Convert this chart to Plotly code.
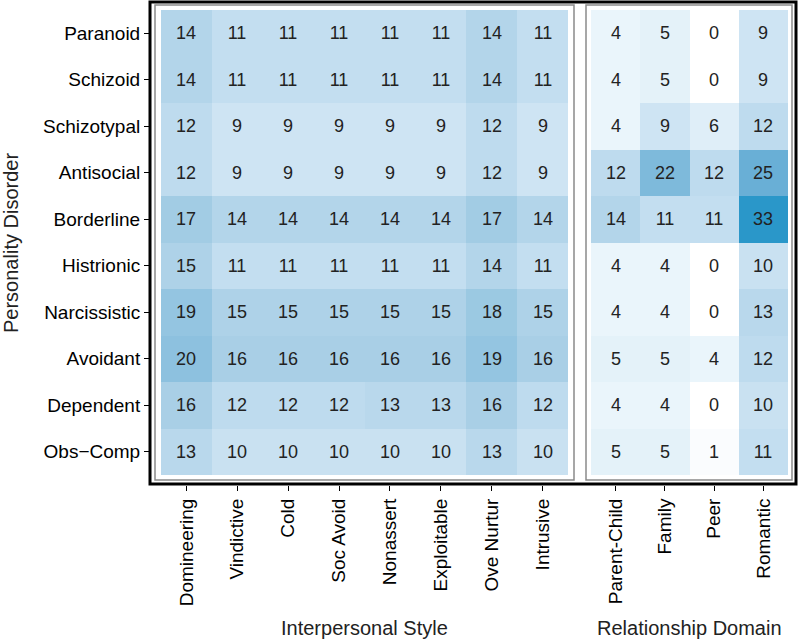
import plotly.graph_objects as go

disorders = ["Paranoid", "Schizoid", "Schizotypal", "Antisocial", "Borderline",
             "Histrionic", "Narcissistic", "Avoidant", "Dependent", "Obs\u2212Comp"]
styles = ["Domineering", "Vindictive", "Cold", "Soc Avoid", "Nonassert",
          "Exploitable", "Ove Nurtur", "Intrusive"]
domains = ["Parent-Child", "Family", "Peer", "Romantic"]

style_vals = [
    [14, 11, 11, 11, 11, 11, 14, 11],
    [14, 11, 11, 11, 11, 11, 14, 11],
    [12, 9, 9, 9, 9, 9, 12, 9],
    [12, 9, 9, 9, 9, 9, 12, 9],
    [17, 14, 14, 14, 14, 14, 17, 14],
    [15, 11, 11, 11, 11, 11, 14, 11],
    [19, 15, 15, 15, 15, 15, 18, 15],
    [20, 16, 16, 16, 16, 16, 19, 16],
    [16, 12, 12, 12, 13, 13, 16, 12],
    [13, 10, 10, 10, 10, 10, 13, 10],
]
domain_vals = [
    [4, 5, 0, 9],
    [4, 5, 0, 9],
    [4, 9, 6, 12],
    [12, 22, 12, 25],
    [14, 11, 11, 33],
    [4, 4, 0, 10],
    [4, 4, 0, 13],
    [5, 5, 4, 12],
    [4, 4, 0, 10],
    [5, 5, 1, 11],
]

W, H = 800, 641
FONT = "Liberation Sans, Arial, sans-serif"
cscale = [[0, "#ffffff"], [0.12, "#eaf5fb"], [0.33, "#c4def0"], [0.5, "#a6cee5"],
          [0.76, "#68afd6"], [1, "#2a97c9"]]

def px(x):
    return x / W

def py(y):
    return 1 - y / H

fig = go.Figure()
common = dict(zmin=0, zmax=33, colorscale=cscale, showscale=False,
              texttemplate="%{z}", textfont=dict(size=18, color="#222222", family=FONT),
              hoverinfo="x+y+z")
fig.add_trace(go.Heatmap(z=style_vals, x=styles, y=disorders, xaxis="x", yaxis="y", **common))
fig.add_trace(go.Heatmap(z=domain_vals, x=domains, y=disorders, xaxis="x2", yaxis="y", **common))

tickfont = dict(size=19, color="black", family=FONT)
xax = dict(type="category", tickangle=-90, ticks="outside", ticklen=5, tickcolor="black",
           tickwidth=1, tickfont=tickfont, showgrid=False, zeroline=False, showline=False,
           anchor="free", position=py(485), fixedrange=True)
fig.update_layout(
    width=W, height=H,
    margin=dict(l=0, r=0, t=0, b=0),
    paper_bgcolor="white", plot_bgcolor="white",
    xaxis=dict(domain=[px(161), px(568)], **xax),
    xaxis2=dict(domain=[px(591), px(788)], **xax),
    yaxis=dict(domain=[py(475), py(10)], type="category", autorange="reversed",
               ticks="outside", ticklen=5, tickcolor="black", tickwidth=1,
               tickfont=tickfont, showgrid=False, zeroline=False, showline=False,
               anchor="free", position=px(149), fixedrange=True),
)

shapes = [
    dict(type="rect", xref="paper", yref="paper", x0=px(150), x1=px(796), y0=py(484), y1=py(2),
         line=dict(color="black", width=3)),
    dict(type="rect", xref="paper", yref="paper", x0=px(155), x1=px(574), y0=py(480), y1=py(5),
         line=dict(color="#8a8a8a", width=1.5)),
    dict(type="rect", xref="paper", yref="paper", x0=px(586), x1=px(792), y0=py(480), y1=py(5),
         line=dict(color="#8a8a8a", width=1.5)),
]
fig.update_layout(shapes=shapes)

titlefont = dict(size=20, color="#222222", family=FONT)
fig.add_annotation(text="Interpersonal Style", xref="paper", yref="paper",
                   x=px(364.5), y=py(628), showarrow=False, font=titlefont,
                   xanchor="center", yanchor="middle")
fig.add_annotation(text="Relationship Domain", xref="paper", yref="paper",
                   x=px(689.5), y=py(628), showarrow=False, font=titlefont,
                   xanchor="center", yanchor="middle")
fig.add_annotation(text="Personality Disorder", xref="paper", yref="paper",
                   x=px(11), y=py(243), showarrow=False, font=titlefont, textangle=-90,
                   xanchor="center", yanchor="middle")

fig.write_html("out.html", config={"displayModeBar": False},
               post_script="document.body.style.margin='0';document.body.style.overflow='hidden';")
